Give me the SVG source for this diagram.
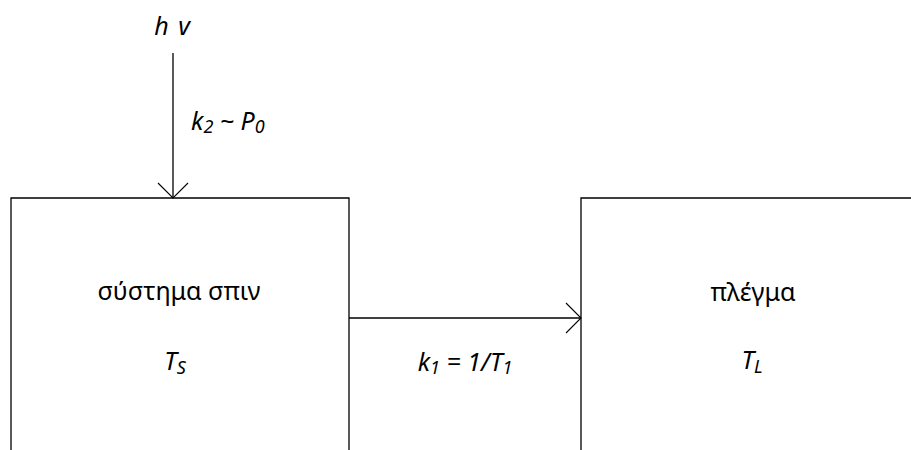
<svg xmlns="http://www.w3.org/2000/svg" width="911" height="450" viewBox="0 0 911 450">
<defs>
<style>
.box{fill:#fff;stroke:#000;stroke-width:1.3}
.edge{fill:none;stroke:#000;stroke-width:1.3}
.head{fill:none;stroke:#000;stroke-width:1.1}
text{font-family:"Noto Sans","Open Sans","Liberation Sans",sans-serif;font-size:25px;fill:#000}
.it{font-style:italic}
.sub{font-size:18px}
</style>
</defs>
<rect width="911" height="450" fill="#fff"/>
<g id="spin-system">
<path class="box" d="M11,452 V198 H349 V452"/>
<text x="179" y="300" text-anchor="middle">σύστημα σπιν</text>
<text class="it" x="175" y="370" text-anchor="middle">T<tspan class="sub" dy="4">S</tspan></text>
</g>
<g id="lattice">
<path class="box" d="M581,452 V198 H913"/>
<text x="753" y="301" text-anchor="middle">πλέγμα</text>
<text class="it" x="752" y="369" text-anchor="middle">T<tspan class="sub" dy="4">L</tspan></text>
</g>
<g id="photon">
<text class="it" x="172" y="35" text-anchor="middle">h <tspan dx="3">v</tspan></text>
</g>
<g id="connectors">
<path class="edge" d="M173,53 V198"/>
<path class="head" d="M158,183 L173,198 L188,183"/>
<text class="it" x="191" y="130">k<tspan class="sub" dy="3">2</tspan><tspan dy="-3"> ~ P</tspan><tspan class="sub" dy="3">0</tspan></text>
<path class="edge" d="M349,318 H581"/>
<path class="head" d="M566,303 L581,318 L566,333"/>
<text class="it" x="465" y="371" text-anchor="middle">k<tspan class="sub" dy="3">1</tspan><tspan dy="-3"> = 1/T</tspan><tspan class="sub" dy="3">1</tspan></text>
</g>
</svg>
